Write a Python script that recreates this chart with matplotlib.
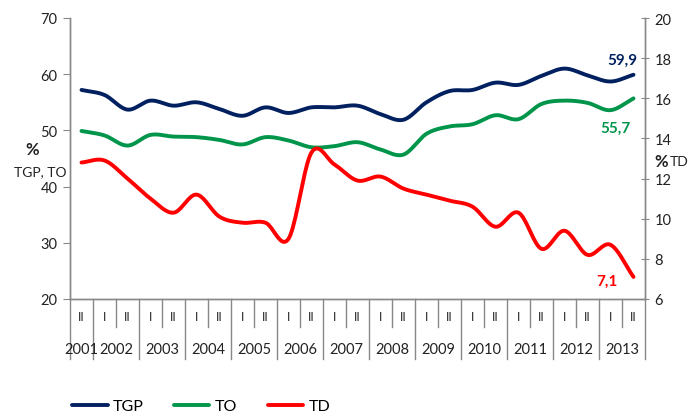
import numpy as np
import matplotlib
matplotlib.use('Agg')
import matplotlib.pyplot as plt
import matplotlib.transforms as mtransforms

plt.rcParams['font.family'] = ['Lato', 'DejaVu Sans']

# ------------------------------------------------------------
# data (semesters 2001-II ... 2013-II)
# ------------------------------------------------------------
semesters = ['II'] + ['I', 'II'] * 12
years = ['2001', '2002', '2003', '2004', '2005', '2006', '2007',
         '2008', '2009', '2010', '2011', '2012', '2013']

tgp = [57.2, 56.3, 53.7, 55.3, 54.4, 55.0, 53.8, 52.6, 54.1, 53.1,
       54.1, 54.1, 54.4, 52.9, 51.9, 55.0, 57.0, 57.2, 58.5, 58.1,
       59.7, 61.0, 59.8, 58.7, 59.9]
to = [49.9, 49.1, 47.3, 49.2, 48.9, 48.8, 48.3, 47.5, 48.8, 48.2,
      47.0, 47.2, 47.9, 46.6, 45.7, 49.4, 50.7, 51.1, 52.7, 52.0,
      54.7, 55.3, 54.9, 53.6, 55.7]
td = [12.8, 12.9, 12.0, 11.0, 10.3, 11.2, 10.1, 9.8, 9.8, 9.0,
      13.3, 12.7, 11.9, 12.1, 11.5, 11.2, 10.9, 10.6, 9.6, 10.3,
      8.5, 9.4, 8.2, 8.7, 7.1]

C_TGP = '#002060'
C_TO = '#00954A'
C_TD = '#FF0000'
GRID = '#888888'


def smooth(y, n=20):
    # Catmull-Rom curve through the points (like Excel's smoothed line)
    y = np.asarray(y, dtype=float)
    p = np.concatenate([[2 * y[0] - y[1]], y, [2 * y[-1] - y[-2]]])
    xs, ys = [], []
    t = np.linspace(0, 1, n, endpoint=False)
    for i in range(1, len(p) - 2):
        p0, p1, p2, p3 = p[i - 1], p[i], p[i + 1], p[i + 2]
        v = 0.5 * ((2 * p1) + (-p0 + p2) * t +
                   (2 * p0 - 5 * p1 + 4 * p2 - p3) * t ** 2 +
                   (-p0 + 3 * p1 - 3 * p2 + p3) * t ** 3)
        xs.extend(i - 1 + t)
        ys.extend(v)
    xs.append(len(y) - 1)
    ys.append(y[-1])
    return np.array(xs), np.array(ys)


W, H = 688, 414
fig = plt.figure(figsize=(W / 100, H / 100), dpi=100)
ax = fig.add_axes([70 / W, (H - 300) / H, 575 / W, 281 / H])
ax2 = ax.twinx()

n = len(tgp)
ax.set_xlim(-0.5, n - 0.5)
ax.set_ylim(20, 70)
ax2.set_ylim(6, 20)
ax.set_yticks(range(20, 71, 10))
ax2.set_yticks(range(6, 21, 2))
ax.set_xticks([])

for a in (ax, ax2):
    a.patch.set_visible(False)
    a.spines['top'].set_visible(False)
    for s in ('left', 'right', 'bottom'):
        a.spines[s].set_color(GRID)
        a.spines[s].set_linewidth(1.0)
    a.tick_params(axis='y', length=4, color=GRID, labelsize=10.5,
                  labelcolor='#222222', pad=4)
ax2.tick_params(axis='y', direction='inout', length=6)
ax.tick_params(axis='y', direction='out', length=5)

l1, = ax.plot(*smooth(tgp), color=C_TGP, lw=2.8, solid_capstyle='round',
              label='TGP', zorder=4)
l2, = ax.plot(*smooth(to), color=C_TO, lw=2.8, solid_capstyle='round',
              label='TO', zorder=4)
l3, = ax2.plot(*smooth(td), color=C_TD, lw=2.8, solid_capstyle='round',
               label='TD', zorder=4)

# end labels
ax.annotate('59,9', (n - 1, tgp[-1]), xytext=(-8, 11), textcoords='offset points',
            ha='center', va='center', color=C_TGP, fontsize=11, fontweight='bold')
ax.annotate('55,7', (n - 1, to[-1]), xytext=(-13, -21), textcoords='offset points',
            ha='center', va='center', color=C_TO, fontsize=11, fontweight='bold')
ax2.annotate('7,1', (n - 1, td[-1]), xytext=(-19, -3), textcoords='offset points',
             ha='center', va='center', color=C_TD, fontsize=11, fontweight='bold')

# two-level category axis
trans = mtransforms.blended_transform_factory(ax.transData, ax.transAxes)
h = 281.0
for k in range(n + 1):
    xk = k - 0.5
    full = (k == 0) or (k % 2 == 1) or (k == n)
    y1 = -60 / h if full else -28 / h
    ax.plot([xk, xk], [0, y1], color=GRID, lw=1.0, transform=trans,
            clip_on=False)
for i, s in enumerate(semesters):
    ax.text(i, -18 / h, s, transform=trans, ha='center', va='center',
            fontsize=8.5, color='#222222', family='DejaVu Sans')
for j, yr in enumerate(years):
    xc = 0 if j == 0 else 2 * j - 0.5
    ax.text(xc, -50 / h, yr, transform=trans, ha='center', va='center',
            fontsize=10.5, color='#222222')

# axis titles
fig.text(32 / W, 1 - 150 / H, '%', ha='center', va='center',
         fontsize=12, fontweight='bold', color='#222222')
fig.text(40 / W, 1 - 172 / H, 'TGP, TO', ha='center', va='center',
         fontsize=10, color='#222222')
fig.text(661 / W, 1 - 162 / H, '%', ha='center', va='center',
         fontsize=12, fontweight='bold', color='#222222')
fig.text(679 / W, 1 - 162 / H, 'TD', ha='center', va='center',
         fontsize=10, color='#222222')

fig.legend(handles=[l1, l2, l3], loc='center left',
           bbox_to_anchor=(66 / W, 1 - 407 / H), ncol=3, frameon=False,
           fontsize=11.5, handlelength=2.2, handletextpad=0.35,
           columnspacing=1.9, borderaxespad=0)

fig.savefig('out.png', dpi=100)
